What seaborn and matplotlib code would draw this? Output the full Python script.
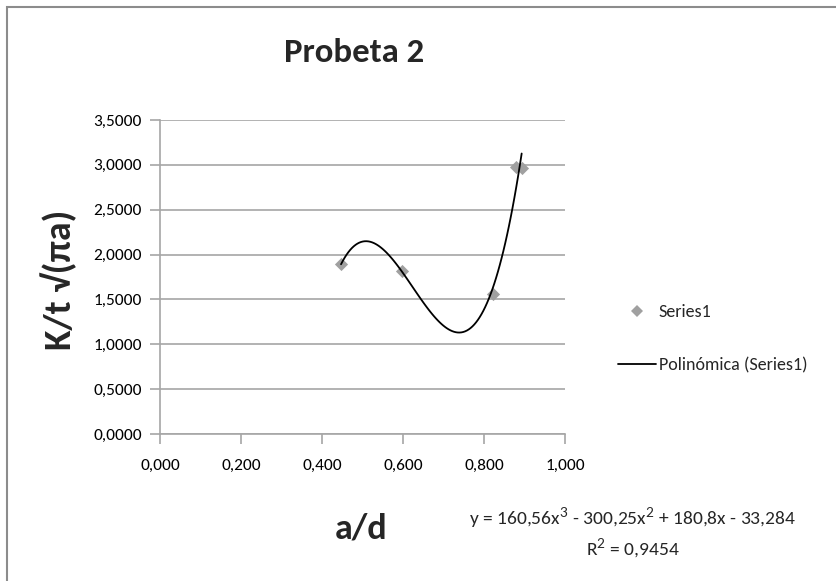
import matplotlib
matplotlib.use("Agg")
import matplotlib.pyplot as plt
import seaborn as sns
import pandas as pd
from matplotlib.patches import Rectangle
from matplotlib.lines import Line2D

# Data
a_d = [0.447, 0.597, 0.821, 0.880, 0.893]
k_val = [1.89, 1.82, 1.56, 2.98, 2.96]
x_ticks = [0.0, 0.2, 0.4, 0.6, 0.8, 1.0]
x_tick_labels = ["0,000", "0,200", "0,400", "0,600", "0,800", "1,000"]
y_ticks = [0.0, 0.5, 1.0, 1.5, 2.0, 2.5, 3.0, 3.5]
y_tick_labels = ["0,0000", "0,5000", "1,0000", "1,5000", "2,0000", "2,5000", "3,0000", "3,5000"]
title = "Probeta 2"
equation = "y = 160,56x$^3$ - 300,25x$^2$ + 180,8x - 33,284"
r2 = "R$^2$ = 0,9454"

df = pd.DataFrame({"a/d": a_d, "K": k_val})

sns.set_theme(style="white")
plt.rcParams['font.family'] = ['Carlito', 'Lato', 'DejaVu Sans']
plt.rcParams['mathtext.fontset'] = 'custom'
plt.rcParams['mathtext.rm'] = 'Lato'

W, H = 836, 581
fig = plt.figure(figsize=(W / 100, H / 100), dpi=100)
ax = fig.add_axes([160 / W, 1 - 434 / H, (565 - 160) / W, (434 - 120) / H])

grid_c = "#a6a6a6"
marker_c = "#a0a0a0"

sns.scatterplot(data=df, x="a/d", y="K", ax=ax, marker="D", s=45, color=marker_c,
                edgecolor=marker_c, linewidth=0, zorder=3, legend=False)
sns.regplot(data=df, x="a/d", y="K", ax=ax, order=3, ci=None, scatter=False,
            line_kws={"color": "black", "lw": 1.3, "zorder": 4})

ax.set_xlim(0, 1)
ax.set_ylim(0, 3.5)
ax.set_xticks(x_ticks)
ax.set_xticklabels(x_tick_labels, fontsize=12.5)
ax.set_yticks(y_ticks)
ax.set_yticklabels(y_tick_labels, fontsize=12.5)
ax.set_xlabel("")
ax.set_ylabel("")
ax.yaxis.grid(True, color=grid_c, lw=1.2)
ax.xaxis.grid(False)
for s in ["top", "right"]:
    ax.spines[s].set_visible(False)
for s in ["left", "bottom"]:
    ax.spines[s].set_color(grid_c)
    ax.spines[s].set_linewidth(1.2)
ax.tick_params(axis="both", which="major", direction="out", length=7, width=1.2,
               color=grid_c, labelcolor="black", left=True, bottom=True)
ax.tick_params(axis="y", pad=6)
ax.tick_params(axis="x", pad=11)

# Texts
fig.text(354 / W, 1 - 53 / H, title, ha="center", va="center", fontsize=25, fontweight="bold")
fig.text(59 / W, 1 - 280 / H, "K/t √(πa)", ha="center", va="center", rotation=90,
         fontsize=27, fontweight="bold")
fig.text(361 / W, 1 - 528 / H, "a/d", ha="center", va="center", fontsize=26, fontweight="bold")
fig.text(633 / W, 1 - 518 / H, equation, ha="center", va="center", fontsize=14)
fig.text(633 / W, 1 - 548 / H, r2, ha="center", va="center", fontsize=14)

# Legend
handles = [
    Line2D([], [], marker="D", ls="none", color=marker_c, markersize=6, markeredgewidth=0),
    Line2D([], [], color="black", lw=1.3),
]
fig.legend(handles, ["Series1", "Polinómica (Series1)"], loc="center left",
           bbox_to_anchor=(602 / W, 1 - 339 / H), frameon=False, fontsize=13,
           handlelength=2.1, handletextpad=0.15, labelspacing=2.05)

# Outer frame
fig.patches.append(Rectangle((7 / W, -0.05), 1.2, 1 - 7 / H + 0.05, transform=fig.transFigure,
                             fill=False, edgecolor="#8c8c8c", lw=1.5))

fig.savefig("out.png", dpi=100)
